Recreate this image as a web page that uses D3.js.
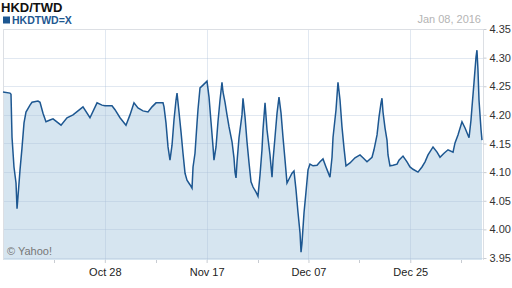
<!DOCTYPE html>
<html>
<head>
<meta charset="utf-8">
<script src="https://d3js.org/d3.v7.min.js"></script>
<style>
  body { margin: 0; background: #fff; }
  svg { display: block; font-family: "Liberation Sans", Arial, sans-serif; }
</style>
</head>
<body>
<div id="chart"></div>
<script>
// Trading-day index since Oct 08 2015 (x axis is by trading day, not calendar)
const dayIdx = [
  0, 0.96, 1.1, 1.24, 1.51, 1.79, 1.93, 2.06, 2.34, 2.61, 2.89, 3.16, 3.71, 3.99, 4.81, 5.09,
  5.5, 5.91, 6.46, 6.88, 7.98, 8.8, 9.63, 11.0, 11.96, 12.93, 13.61, 14.03, 14.99, 15.4,
  16.09, 16.91, 17.46, 18.01, 18.56, 19.25, 19.94, 20.49, 21.04, 22.0, 22.14, 22.41, 22.69,
  22.96, 23.24, 23.51, 23.79, 23.93, 24.2, 24.48, 24.75, 25.03, 25.3, 25.71, 25.99, 26.13,
  26.4, 26.68, 26.81, 27.09, 27.5, 28.05, 28.33, 28.6, 28.88, 29.01, 29.29, 29.56, 29.84,
  30.11, 30.25, 30.53, 30.8, 31.08, 31.49, 31.76, 31.9, 32.04, 32.18, 32.45, 32.86, 33.0,
  33.28, 33.55, 33.83, 34.1, 34.38, 34.79, 35.06, 35.34, 35.61, 35.75, 36.03, 36.3, 36.71,
  36.99, 37.13, 37.4, 37.68, 37.95, 38.23, 38.5, 38.78, 39.05, 39.33, 39.74, 40.01, 40.29,
  40.56, 40.84, 40.98, 41.11, 41.39, 41.66, 41.94, 42.21, 42.63, 43.18, 43.59, 44.0, 44.41,
  44.69, 44.96, 45.24, 45.38, 45.79, 46.06, 46.34, 46.61, 46.89, 47.16, 47.71, 48.4, 49.09,
  49.5, 50.05, 50.74, 51.01, 51.43, 51.7, 51.98, 52.11, 52.25, 52.53, 52.8, 52.94, 53.21,
  53.63, 54.18, 54.45, 55.0, 55.55, 55.96, 56.38, 57.06, 57.61, 58.03, 58.44, 59.13, 59.68,
  60.09, 60.64, 61.19, 61.88, 62.15, 62.56, 63.11, 63.53, 64.08, 64.35, 64.49, 64.76, 65.04,
  65.17, 65.31, 65.45, 65.73, 65.86
];

// HKD/TWD rate
const rate = [
  4.240, 4.238, 4.236, 4.161, 4.109, 4.081, 4.036, 4.057, 4.104, 4.142, 4.186, 4.205, 4.217, 4.222, 4.224, 4.222,
  4.203, 4.188, 4.191, 4.193, 4.182, 4.195, 4.200, 4.214, 4.195, 4.221, 4.217, 4.216, 4.216, 4.209,
  4.195, 4.182, 4.200, 4.221, 4.212, 4.207, 4.205, 4.214, 4.221, 4.221, 4.214, 4.186, 4.144,
  4.121, 4.147, 4.191, 4.226, 4.238, 4.205, 4.170, 4.133, 4.098, 4.086, 4.078, 4.072, 4.109,
  4.133, 4.186, 4.209, 4.247, 4.252, 4.259, 4.231, 4.188, 4.144, 4.121, 4.144, 4.188, 4.226,
  4.257, 4.240, 4.222, 4.200, 4.179, 4.153, 4.125, 4.100, 4.090, 4.118, 4.160, 4.200, 4.229,
  4.196, 4.153, 4.116, 4.083, 4.074, 4.065, 4.058, 4.095, 4.139, 4.174, 4.221, 4.174, 4.130,
  4.091, 4.121, 4.161, 4.203, 4.231, 4.203, 4.161, 4.121, 4.081, 4.088, 4.098, 4.102, 4.069,
  4.030, 3.994, 3.960, 3.976, 4.029, 4.065, 4.104, 4.114, 4.111, 4.112, 4.118, 4.123, 4.109,
  4.100, 4.091, 4.126, 4.161, 4.209, 4.257, 4.226, 4.179, 4.142, 4.111, 4.116, 4.125, 4.130,
  4.125, 4.118, 4.126, 4.139, 4.165, 4.196, 4.221, 4.229, 4.205, 4.177, 4.156, 4.130, 4.111,
  4.112, 4.114, 4.121, 4.128, 4.118, 4.109, 4.105, 4.100, 4.109, 4.118, 4.130, 4.144, 4.135,
  4.126, 4.133, 4.139, 4.135, 4.151, 4.165, 4.188, 4.177, 4.160, 4.191, 4.214, 4.256, 4.301,
  4.313, 4.278, 4.226, 4.174, 4.156
];

const xTickDays = [14, 28, 42, 56];
const xTickLabels = ["Oct 28", "Nov 17", "Dec 07", "Dec 25"];
const xMinorDays = [7, 21, 35, 49, 63];
const yTicks = [3.95, 4.00, 4.05, 4.10, 4.15, 4.20, 4.25, 4.30, 4.35];

const W = 512, H = 288;
const plot = { left: 3, right: 483, top: 29, bottom: 260 };
const lineColor = "#1d5791";

const data = dayIdx.map((d, i) => ({ day: d, value: rate[i] }));

const svg = d3.select("#chart").append("svg")
  .attr("width", W)
  .attr("height", H);

const x = d3.scaleLinear().domain([0, 66]).range([plot.left, plot.right]);
const y = d3.scaleLinear().domain([3.95, 4.35]).range([258, plot.top]);

// Area under the line
svg.append("path")
  .datum(data)
  .attr("fill", "#d6e5f0")
  .attr("d", d3.area()
    .x(d => x(d.day))
    .y0(plot.bottom)
    .y1(d => y(d.value)));

// Grid lines, semi-transparent so they darken inside the area
const gridColor = "rgba(170,190,215,0.35)";
svg.append("g")
  .selectAll("line")
  .data(yTicks)
  .join("line")
  .attr("x1", plot.left)
  .attr("x2", plot.right)
  .attr("y1", d => Math.round(y(d)) + 0.5)
  .attr("y2", d => Math.round(y(d)) + 0.5)
  .attr("stroke", gridColor);

svg.append("g")
  .selectAll("line")
  .data(xTickDays)
  .join("line")
  .attr("x1", d => Math.round(x(d)) + 0.5)
  .attr("x2", d => Math.round(x(d)) + 0.5)
  .attr("y1", plot.top)
  .attr("y2", plot.bottom)
  .attr("stroke", gridColor);

// Plot frame (top, left, right)
svg.append("path")
  .attr("d", `M${plot.left + 0.5},${plot.bottom}V${plot.top + 0.5}H${plot.right + 0.5}V${plot.bottom}`)
  .attr("fill", "none")
  .attr("stroke", "#dcdfe4");

// Rate line
svg.append("path")
  .datum(data)
  .attr("fill", "none")
  .attr("stroke", lineColor)
  .attr("stroke-width", 1.5)
  .attr("stroke-linejoin", "miter")
  .attr("d", d3.line()
    .x(d => x(d.day))
    .y(d => y(d.value)));

// Right axis
const yAxis = svg.append("g")
  .attr("transform", `translate(${plot.right + 0.5},0)`)
  .call(d3.axisRight(y).tickValues(yTicks).tickFormat(d3.format(".2f")).tickSize(3).tickPadding(3));
yAxis.select(".domain").remove();
yAxis.selectAll("line").attr("stroke", "#c8ccd2");
yAxis.selectAll("text")
  .attr("fill", "#333")
  .style("font-size", "11px")
  .style("font-family", "'Liberation Sans', Arial, sans-serif");

// Bottom axis
const xAxis = svg.append("g")
  .attr("transform", `translate(0,${plot.bottom})`)
  .call(d3.axisBottom(x).tickValues(xTickDays).tickFormat((d, i) => xTickLabels[i]).tickSize(3).tickPadding(5));
xAxis.select(".domain").remove();
xAxis.selectAll("line").attr("stroke", "#c8ccd2");
xAxis.selectAll("text")
  .attr("fill", "#222")
  .style("font-size", "11px")
  .style("font-family", "'Liberation Sans', Arial, sans-serif");

svg.append("g")
  .selectAll("line")
  .data(xMinorDays)
  .join("line")
  .attr("x1", d => Math.round(x(d)) + 0.5)
  .attr("x2", d => Math.round(x(d)) + 0.5)
  .attr("y1", plot.bottom)
  .attr("y2", plot.bottom + 3)
  .attr("stroke", "#c8ccd2");

// Title and legend
svg.append("text")
  .attr("x", 1)
  .attr("y", 12)
  .attr("font-size", 13)
  .attr("font-weight", "bold")
  .attr("fill", "#111")
  .text("HKD/TWD");

svg.append("rect")
  .attr("x", 3)
  .attr("y", 16.5)
  .attr("width", 7)
  .attr("height", 7)
  .attr("fill", lineColor);

svg.append("text")
  .attr("x", 12)
  .attr("y", 24)
  .attr("font-size", 10.5)
  .attr("font-weight", "bold")
  .attr("fill", lineColor)
  .text("HKDTWD=X");

svg.append("text")
  .attr("x", 481)
  .attr("y", 23)
  .attr("text-anchor", "end")
  .attr("font-size", 11)
  .attr("fill", "#b4b4b4")
  .text("Jan 08, 2016");

svg.append("text")
  .attr("x", 7)
  .attr("y", 255)
  .attr("font-size", 11)
  .attr("fill", "#777")
  .text("© Yahoo!");
</script>
</body>
</html>
